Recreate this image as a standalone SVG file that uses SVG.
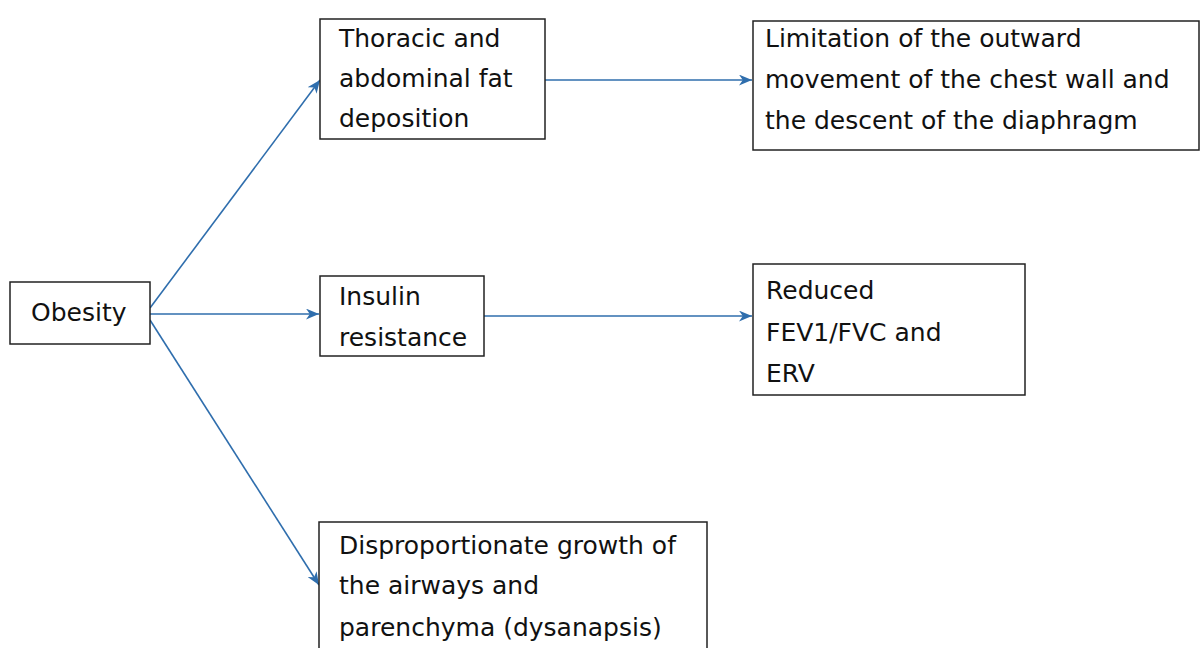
<svg xmlns="http://www.w3.org/2000/svg" width="1203" height="648" viewBox="0 0 1203 648">
<defs>
<style>
.box{fill:#fff;stroke:#222;stroke-width:1.5}
.t{font-family:"DejaVu Sans",Verdana,sans-serif;font-size:25px;fill:#111}
.c{stroke:#2f6ead;stroke-width:1.6;fill:none;marker-end:url(#ah)}
</style>
<marker id="ah" viewBox="0 0 12 10" refX="12" refY="5" markerWidth="13" markerHeight="11" markerUnits="userSpaceOnUse" orient="auto">
<path d="M0,0 L12,5 L0,10 L3.5,5 Z" fill="#2f6ead"/>
</marker>
</defs>
<rect width="1203" height="648" fill="#fff"/>
<g id="connectors">
<line class="c" x1="150" y1="308" x2="320" y2="80"/>
<line class="c" x1="150" y1="314" x2="319" y2="314"/>
<line class="c" x1="150" y1="320" x2="319" y2="585"/>
<line class="c" x1="545" y1="80" x2="752" y2="80"/>
<line class="c" x1="484" y1="316" x2="752" y2="316"/>
</g>
<g id="obesity">
<rect class="box" x="10" y="282" width="140" height="62"/>
<text class="t" x="31" y="321">Obesity</text>
</g>
<g id="thoracic">
<rect class="box" x="320" y="19" width="225" height="120"/>
<text class="t" x="339" y="47">Thoracic and</text>
<text class="t" x="339" y="87">abdominal fat</text>
<text class="t" x="339" y="127">deposition</text>
</g>
<g id="limitation">
<rect class="box" x="753" y="21" width="446" height="129"/>
<text class="t" x="765" y="47">Limitation of the outward</text>
<text class="t" x="765" y="88">movement of the chest wall and</text>
<text class="t" x="765" y="129">the descent of the diaphragm</text>
</g>
<g id="insulin">
<rect class="box" x="320" y="276" width="164" height="80"/>
<text class="t" x="339" y="305">Insulin</text>
<text class="t" x="339" y="346">resistance</text>
</g>
<g id="reduced">
<rect class="box" x="753" y="264" width="272" height="131"/>
<text class="t" x="766" y="299">Reduced</text>
<text class="t" x="766" y="341">FEV1/FVC and</text>
<text class="t" x="766" y="382">ERV</text>
</g>
<g id="dysanapsis">
<rect class="box" x="319" y="522" width="388" height="140"/>
<text class="t" x="339" y="554">Disproportionate growth of</text>
<text class="t" x="339" y="594">the airways and</text>
<text class="t" x="339" y="636">parenchyma (dysanapsis)</text>
</g>
</svg>
